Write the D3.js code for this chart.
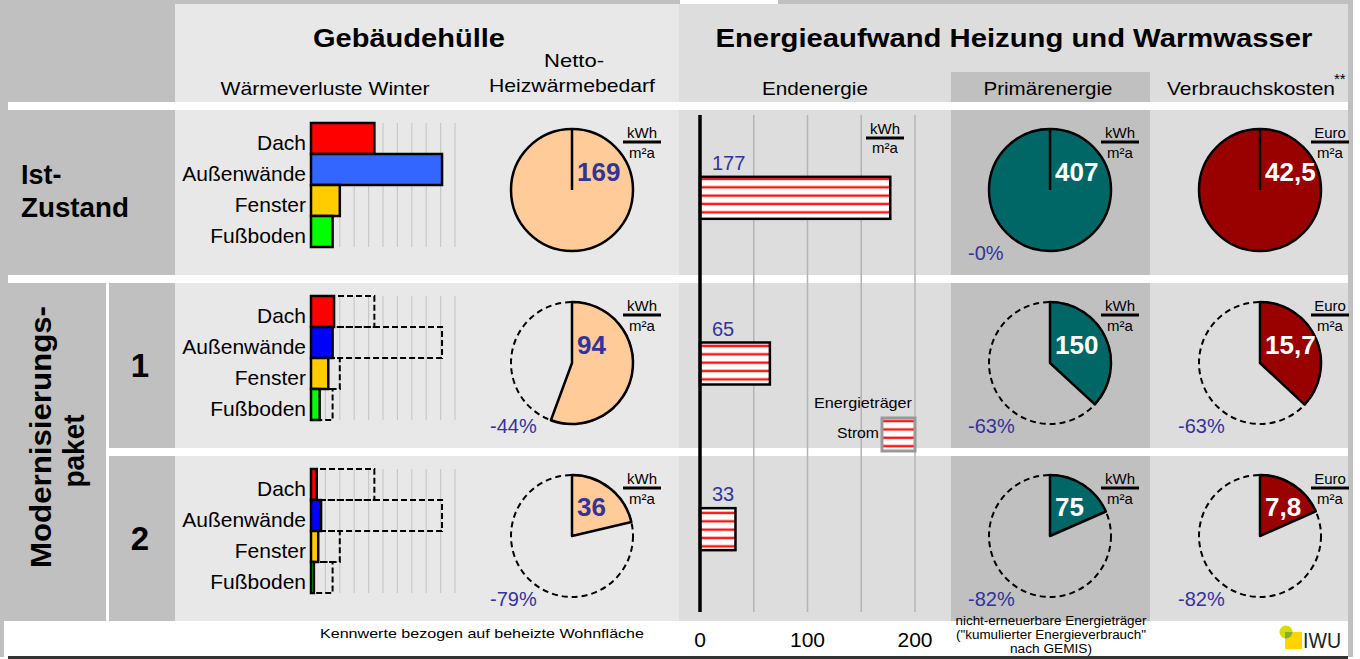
<!DOCTYPE html>
<html>
<head>
<meta charset="utf-8">
<script src="https://cdn.jsdelivr.net/npm/d3@7"></script>
<style>
  body { margin: 0; background: #fff; }
  svg { display: block; font-family: "Liberation Sans", Arial, sans-serif; }
</style>
</head>
<body>
<div id="chart"></div>
<script>
// values
const scenarios = ["Ist-Zustand", "1", "2"];
const components = ["Dach", "Außenwände", "Fenster", "Fußboden"];
const lossIst = [44, 91, 20, 15];
const lossPaket1 = [16, 15, 12, 6];
const lossPaket2 = [4, 7, 5, 2];
const heatDemand = [169, 94, 36];
const finalEnergy = [177, 65, 33];
const primaryEnergy = [407, 150, 75];
const energyCosts = [42.5, 15.7, 7.8];
const finalTicks = [0, 100, 200];
const carrier = "Strom";

const losses = [lossIst, lossPaket1, lossPaket2];

const width = 1360, height = 659;
const rowTop = [110, 283, 456], rowH = 165;
const grey = "#c0c0c0", light = "#e8e8e8", mid = "#dddddd", blue = "#333399";

const svg = d3.select("#chart").append("svg")
  .attr("width", width).attr("height", height);

function label(g, s, x, y, o = {}) {
  const t = g.append("text")
    .attr("x", x).attr("y", y).text(s)
    .attr("font-size", o.size || 20)
    .attr("font-weight", o.bold ? "bold" : null)
    .attr("text-anchor", o.anchor || "start")
    .attr("fill", o.fill || "#000");
  if (o.w) t.attr("textLength", o.w).attr("lengthAdjust", "spacingAndGlyphs");
  return t;
}

// stripes for the "Strom" bars
const defs = svg.append("defs");
const pat = defs.append("pattern").attr("id", "strom")
  .attr("patternUnits", "userSpaceOnUse").attr("width", 10).attr("height", 8.35);
pat.append("rect").attr("width", 10).attr("height", 8.35).attr("fill", "#fff");
pat.append("rect").attr("y", 2).attr("width", 10).attr("height", 3.2).attr("fill", "#ffb4b4");
pat.append("rect").attr("y", 2.6).attr("width", 10).attr("height", 2).attr("fill", "#ff1010");

// ---- backgrounds / frame
svg.append("rect").attr("x", 0).attr("y", 0).attr("width", 680).attr("height", 4).attr("fill", grey);
svg.append("rect").attr("x", 778).attr("y", 0).attr("width", 575).attr("height", 4).attr("fill", grey);
svg.append("rect").attr("x", 0).attr("y", 0).attr("width", 4).attr("height", 657).attr("fill", grey);
svg.append("rect").attr("x", 4).attr("y", 0).attr("width", 4).attr("height", 621).attr("fill", grey);
svg.append("rect").attr("x", 1348).attr("y", 0).attr("width", 5).attr("height", 657).attr("fill", grey);
svg.append("rect").attr("x", 8).attr("y", 656).attr("width", 1340).attr("height", 3).attr("fill", "#333");

svg.append("rect").attr("x", 4).attr("y", 4).attr("width", 171).attr("height", 98).attr("fill", grey);
svg.append("rect").attr("x", 175).attr("y", 4).attr("width", 504).attr("height", 98).attr("fill", light);
svg.append("rect").attr("x", 679).attr("y", 4).attr("width", 669).attr("height", 98).attr("fill", mid);
svg.append("rect").attr("x", 951).attr("y", 72).attr("width", 199).attr("height", 30).attr("fill", grey);

rowTop.forEach(t => {
  svg.append("rect").attr("x", 175).attr("y", t).attr("width", 504).attr("height", rowH).attr("fill", light);
  svg.append("rect").attr("x", 679).attr("y", t).attr("width", 669).attr("height", rowH).attr("fill", mid);
  svg.append("rect").attr("x", 951).attr("y", t).attr("width", 199).attr("height", rowH).attr("fill", grey);
});
svg.append("rect").attr("x", 4).attr("y", rowTop[0]).attr("width", 171).attr("height", rowH).attr("fill", grey);
svg.append("rect").attr("x", 4).attr("y", rowTop[1]).attr("width", 102).attr("height", rowTop[2] + rowH - rowTop[1]).attr("fill", grey);
svg.append("rect").attr("x", 109).attr("y", rowTop[1]).attr("width", 66).attr("height", rowH).attr("fill", grey);
svg.append("rect").attr("x", 109).attr("y", rowTop[2]).attr("width", 66).attr("height", rowH).attr("fill", grey);

// ---- headers
label(svg, "Gebäudehülle", 409, 47, { size: 25, bold: true, anchor: "middle", w: 192 });
label(svg, "Energieaufwand Heizung und Warmwasser", 1014, 47, { size: 25, bold: true, anchor: "middle", w: 597 });
label(svg, "Wärmeverluste Winter", 325, 95, { size: 19, anchor: "middle", w: 209 });
label(svg, "Netto-", 574, 67, { size: 19, anchor: "middle", w: 60 });
label(svg, "Heizwärmebedarf", 572, 92, { size: 19, anchor: "middle", w: 166 });
label(svg, "Endenergie", 815, 95, { size: 19, anchor: "middle", w: 106 });
label(svg, "Primärenergie", 1048, 95, { size: 19, anchor: "middle", w: 129 });
label(svg, "Verbrauchskosten", 1251, 95, { size: 19, anchor: "middle", w: 168 });
label(svg, "**", 1334, 84, { size: 15 });

// ---- row labels
label(svg, "Ist-", 21, 184, { size: 27, bold: true });
label(svg, "Zustand", 21, 217, { size: 27, bold: true, w: 108 });
label(svg, "Modernisierungs-", 0, 0, { size: 30, bold: true, anchor: "middle", w: 262 })
  .attr("transform", "translate(51,437) rotate(-90)");
label(svg, "paket", 0, 0, { size: 30, bold: true, anchor: "middle", w: 73 })
  .attr("transform", "translate(84,451) rotate(-90)");
scenarios.slice(1).forEach((s, i) => {
  label(svg, s, 140, rowTop[i + 1] + 94, { size: 33, bold: true, anchor: "middle" });
});

// ---- heat losses by component
const xLoss = d3.scaleLinear().domain([0, 100]).range([311, 455]);
const colIst = ["#ff0000", "#3366ff", "#ffcc00", "#00ff00"];
const colNew = ["#ff0000", "#0000ff", "#ffcc00", "#00ff00"];

losses.forEach((vals, r) => {
  const t = rowTop[r];
  const y = d3.scaleBand().domain(components).range([t + 13, t + 137]).padding(0);
  const g = svg.append("g");
  g.selectAll(".grid").data(xLoss.ticks(10).slice(1)).enter().append("line")
    .attr("x1", d => xLoss(d)).attr("x2", d => xLoss(d))
    .attr("y1", y.range()[0]).attr("y2", y.range()[1])
    .attr("stroke", "#c8c8c8").attr("stroke-width", 1.2);
  if (r > 0) {
    g.selectAll(".ref").data(lossIst).enter().append("rect")
      .attr("x", xLoss(0)).attr("y", (d, i) => y(components[i]))
      .attr("width", d => xLoss(d) - xLoss(0)).attr("height", y.bandwidth())
      .attr("fill", "none").attr("stroke", "#000").attr("stroke-width", 2)
      .attr("stroke-dasharray", "6,3");
  }
  g.selectAll(".bar").data(vals).enter().append("rect")
    .attr("x", xLoss(0)).attr("y", (d, i) => y(components[i]))
    .attr("width", d => xLoss(d) - xLoss(0)).attr("height", y.bandwidth())
    .attr("fill", (d, i) => (r === 0 ? colIst : colNew)[i])
    .attr("stroke", "#000").attr("stroke-width", 2.5);
  components.forEach(c => {
    label(g, c, 306, y(c) + y.bandwidth() / 2 + 11, { size: 21, anchor: "end" });
  });
});

// ---- pies
const arc = d3.arc().innerRadius(0).outerRadius(61);
const pieGen = d3.pie().sort(null);
const fmtDe = v => String(v).replace(".", ",");

function drawPie(cx, cy, v, v0, color, textFill, unitTop, showPct) {
  const g = svg.append("g").attr("transform", `translate(${cx},${cy})`);
  const frac = v / v0;
  if (frac >= 1) {
    g.append("circle").attr("r", 61).attr("fill", color)
      .attr("stroke", "#000").attr("stroke-width", 2.5);
    g.append("line").attr("x1", 0).attr("y1", 0).attr("x2", 0).attr("y2", -61)
      .attr("stroke", "#000").attr("stroke-width", 2.5);
  } else {
    g.append("circle").attr("r", 61).attr("fill", "none")
      .attr("stroke", "#000").attr("stroke-width", 2).attr("stroke-dasharray", "6,4");
    const slices = pieGen([v, v0 - v]);
    g.append("path").attr("d", arc(slices[0])).attr("fill", color)
      .attr("stroke", "#000").attr("stroke-width", 2.5).attr("stroke-linejoin", "round");
  }
  label(g, fmtDe(v), 5, frac < 0.3 ? -20 : -9, { size: 26, bold: true, fill: textFill });
  label(g, unitTop, 70, -52, { size: 15, anchor: "middle" });
  g.append("line").attr("x1", 51).attr("x2", 89).attr("y1", -48).attr("y2", -48)
    .attr("stroke", "#000").attr("stroke-width", 3);
  label(g, "m²a", 70, -32, { size: 15, anchor: "middle" });
  if (showPct) {
    label(g, "-" + Math.round((1 - frac) * 100) + "%", -82, 70, { size: 20, fill: blue });
  }
}

heatDemand.forEach((v, i) =>
  drawPie(572, rowTop[i] + 80, v, heatDemand[0], "#ffcc99", blue, "kWh", i > 0));
primaryEnergy.forEach((v, i) =>
  drawPie(1050, rowTop[i] + 80, v, primaryEnergy[0], "#006666", "#fff", "kWh", true));
energyCosts.forEach((v, i) =>
  drawPie(1260, rowTop[i] + 80, v, energyCosts[0], "#990000", "#fff", "Euro", i > 0));

// ---- final energy bars
const xE = d3.scaleLinear().domain([0, 200]).range([700, 915]);
const yE = d3.scalePoint().domain(d3.range(finalEnergy.length)).range([115, 612]).padding(0.5);
const gE = svg.append("g");
gE.selectAll(".grid").data(d3.range(50, 201, 50)).enter().append("line")
  .attr("x1", d => xE(d)).attr("x2", d => xE(d)).attr("y1", 115).attr("y2", 612)
  .attr("stroke", "#b4b4b4").attr("stroke-width", 1.5);
gE.selectAll(".bar").data(finalEnergy).enter().append("rect")
  .attr("x", xE(0)).attr("y", (d, i) => yE(i) - 21)
  .attr("width", d => xE(d) - xE(0)).attr("height", 42)
  .attr("fill", "url(#strom)").attr("stroke", "#000").attr("stroke-width", 2.5);
finalEnergy.forEach((v, i) => label(gE, v, xE(0) + 12, yE(i) - 28, { size: 20, fill: blue }));
gE.append("line").attr("x1", xE(0)).attr("x2", xE(0)).attr("y1", 115).attr("y2", 612)
  .attr("stroke", "#000").attr("stroke-width", 3.5);
finalTicks.forEach(t => label(svg, t, xE(t), 647, { size: 21, anchor: "middle" }));
label(gE, "kWh", 885, 134, { size: 15, anchor: "middle" });
gE.append("line").attr("x1", 866).attr("x2", 904).attr("y1", 138).attr("y2", 138)
  .attr("stroke", "#000").attr("stroke-width", 3);
label(gE, "m²a", 885, 153, { size: 15, anchor: "middle" });

// legend
label(gE, "Energieträger", 863, 408, { size: 15, anchor: "middle", w: 98 });
label(gE, carrier, 879, 438, { size: 15, anchor: "end", w: 42 });
gE.append("rect").attr("x", 882).attr("y", 418).attr("width", 33).attr("height", 33)
  .attr("fill", "url(#strom)").attr("stroke", "#999").attr("stroke-width", 3);

// ---- footer
label(svg, "Kennwerte bezogen auf beheizte Wohnfläche", 482, 638, { size: 13, anchor: "middle", w: 324 });
label(svg, "nicht-erneuerbare Energieträger", 1051, 625, { size: 12, anchor: "middle", w: 191 });
label(svg, "(\"kumulierter Energieverbrauch\"", 1051, 639, { size: 12, anchor: "middle", w: 190 });
label(svg, "nach GEMIS)", 1051, 653, { size: 12, anchor: "middle", w: 82 });

// IWU logo
const logo = svg.append("g");
defs.append("clipPath").attr("id", "sq").append("rect")
  .attr("x", 1285).attr("y", 632).attr("width", 17).attr("height", 17);
logo.append("circle").attr("cx", 1286).attr("cy", 632).attr("r", 6.5).attr("fill", "#d4dc00");
logo.append("rect").attr("x", 1285).attr("y", 632).attr("width", 17).attr("height", 17).attr("fill", "#ffd400");
logo.append("circle").attr("cx", 1286).attr("cy", 632).attr("r", 6.5).attr("fill", "#7fb030")
  .attr("clip-path", "url(#sq)");
label(logo, "IWU", 1303, 648, { size: 22, fill: "#222", w: 38 });
</script>
</body>
</html>
